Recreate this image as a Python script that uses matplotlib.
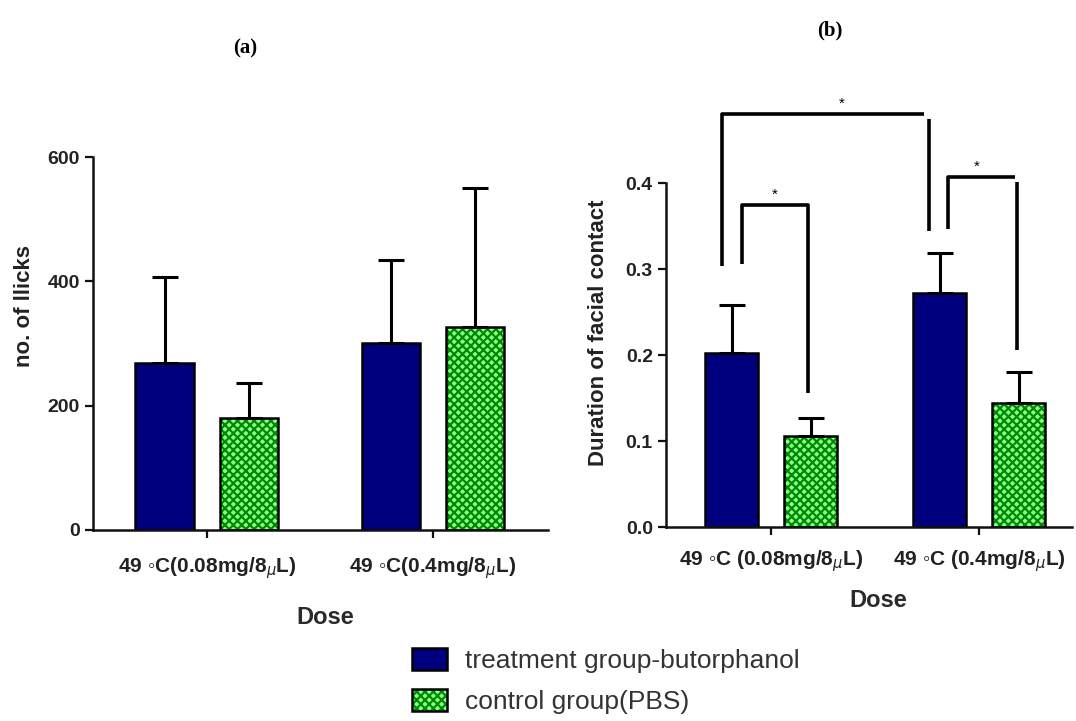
import matplotlib
matplotlib.use("Agg")
import matplotlib.pyplot as plt
import matplotlib.patches as mpatches
from matplotlib.legend_handler import HandlerBase
import numpy as np

plt.rcParams['font.family'] = ['Liberation Sans', 'DejaVu Sans']
plt.rcParams['hatch.linewidth'] = 1.6

# ---- data ----
doses_a = ["49 \u25e6C(0.08mg/8$_{\\mu}$L)", "49 \u25e6C(0.4mg/8$_{\\mu}$L)"]
doses_b = ["49 \u25e6C (0.08mg/8$_{\\mu}$L)", "49 \u25e6C (0.4mg/8$_{\\mu}$L)"]
series = ["treatment group-butorphanol", "control group(PBS)"]

licks_treat = [269, 301]
licks_treat_err = [138, 133]
licks_ctrl = [180, 327]
licks_ctrl_err = [56, 223]

face_treat = [0.202, 0.272]
face_treat_err = [0.056, 0.047]
face_ctrl = [0.106, 0.144]
face_ctrl_err = [0.021, 0.036]

yticks_a = [0, 200, 400, 600]
yticks_b = [0.0, 0.1, 0.2, 0.3, 0.4]

navy = '#00007f'
lightgreen = '#8cff8c'
darkgreen = '#008a00'
HATCH = 'xxxx'

fig = plt.figure(figsize=(10.76, 7.21), dpi=100)

axA = fig.add_axes([93/1076, 1-530/721, 455/1076, 373/721])
axB = fig.add_axes([666/1076, 1-527/721, 406/1076, 344/721])

ytick_font = dict(fontsize=14, fontweight='bold', color='#222222')
xtick_font = dict(fontsize=15, fontweight='bold', color='#222222')


def draw(ax, treat, terr, ctrl, cerr, width, off):
    x = np.arange(len(treat))
    ax.bar(x - off, treat, width, color=navy, edgecolor='black', linewidth=1.8, zorder=2)
    ax.bar(x + off, ctrl, width, facecolor=lightgreen, edgecolor=darkgreen, linewidth=0,
           hatch=HATCH, zorder=2)
    ax.bar(x + off, ctrl, width, fill=False, edgecolor='black', linewidth=1.8, zorder=2.5)
    ax.errorbar(x - off, treat, yerr=[np.zeros(len(terr)), terr], fmt='none',
                ecolor='black', elinewidth=2.2, capsize=9.5, capthick=2.2, zorder=3)
    ax.errorbar(x + off, ctrl, yerr=[np.zeros(len(cerr)), cerr], fmt='none',
                ecolor='black', elinewidth=2.2, capsize=9.5, capthick=2.2, zorder=3)
    for s in ['top', 'right']:
        ax.spines[s].set_visible(False)
    for s in ['left', 'bottom']:
        ax.spines[s].set_linewidth(1.8)
        ax.spines[s].set_color('#111111')
    ax.tick_params(axis='both', width=1.6, length=6, color='#111111')
    ax.set_xticks(x)
    return x


xa = draw(axA, licks_treat, licks_treat_err, licks_ctrl, licks_ctrl_err, 0.26, 0.186)
axA.set_xlim(-0.504, 1.509)
axA.set_ylim(0, 600)
axA.set_yticks(yticks_a)
axA.set_yticklabels([str(v) for v in yticks_a], **ytick_font)
axA.set_xticklabels(doses_a, **xtick_font)
axA.tick_params(axis='x', pad=12)
axA.set_ylabel("no. of llicks", fontsize=16, fontweight='bold', color='#222222')
axA.yaxis.set_label_coords(-0.128, 0.60)
axA.set_xlabel("Dose", fontsize=17, fontweight='bold', color='#2a2a2a')
axA.xaxis.set_label_coords(0.51, -0.205)

xb = draw(axB, face_treat, face_treat_err, face_ctrl, face_ctrl_err, 0.255, 0.19)
axB.set_xlim(-0.505, 1.447)
axB.set_ylim(0, 0.4)
axB.set_yticks(yticks_b)
axB.set_yticklabels(["%.1f" % v for v in yticks_b], **ytick_font)
axB.set_xticklabels(doses_b, **xtick_font)
axB.tick_params(axis='x', pad=9)
axB.set_ylabel("Duration of facial contact", fontsize=16, fontweight='bold', color='#222222')
axB.yaxis.set_label_coords(-0.14, 0.564)
axB.set_xlabel("Dose", fontsize=17, fontweight='bold', color='#2a2a2a')
axB.xaxis.set_label_coords(0.522, -0.18)

# significance brackets (data coordinates of panel b)
bk = dict(color='black', linewidth=2.6, clip_on=False, solid_capstyle='butt', zorder=4)
axB.plot([-0.236, -0.236, 0.737], [0.304, 0.480, 0.480], **bk)
axB.plot([0.760, 0.760], [0.475, 0.344], **bk)
axB.text(0.34, 0.484, "*", ha='center', va='bottom', fontsize=11, clip_on=False)
axB.plot([-0.139, -0.139, 0.178, 0.178], [0.306, 0.374, 0.374, 0.156], **bk)
axB.text(0.019, 0.378, "*", ha='center', va='bottom', fontsize=11, clip_on=False)
axB.plot([0.851, 0.851, 1.173], [0.347, 0.407, 0.407], **bk)
axB.plot([1.183, 1.183], [0.401, 0.206], **bk)
axB.text(0.99, 0.411, "*", ha='center', va='bottom', fontsize=11, clip_on=False)

# panel titles
fig.text(245/1076, 1-48/721, "(a)", ha='center', va='center', fontsize=15,
         fontweight='bold', family='Liberation Serif')
fig.text(830/1076, 1-30/721, "(b)", ha='center', va='center', fontsize=15,
         fontweight='bold', family='Liberation Serif')


class HatchHandler(HandlerBase):
    def create_artists(self, legend, orig_handle, xdescent, ydescent, width, height,
                       fontsize, trans):
        r1 = mpatches.Rectangle((-xdescent, -ydescent), width, height, facecolor=lightgreen,
                                edgecolor=darkgreen, linewidth=0, hatch=HATCH, transform=trans)
        r2 = mpatches.Rectangle((-xdescent, -ydescent), width, height, fill=False,
                                edgecolor='black', linewidth=1.8, transform=trans)
        return [r1, r2]


h1 = mpatches.Patch(facecolor=navy, edgecolor='black', linewidth=1.8)
h2 = mpatches.Patch(facecolor=lightgreen)
leg = fig.legend([h1, h2], series, loc='center left',
                 bbox_to_anchor=(388/1076, 1-681/721), frameon=False, fontsize=19,
                 handlelength=1.35, handleheight=0.9, labelspacing=0.6, handletextpad=0.65)
leg = fig.legends[0]
leg.remove()
leg = fig.legend([h1, h2], series, loc='center left',
                 bbox_to_anchor=(388/1076, 1-681/721), frameon=False, fontsize=19,
                 handlelength=1.35, handleheight=0.9, labelspacing=0.6, handletextpad=0.65,
                 handler_map={h2: HatchHandler()})
for t in leg.get_texts():
    t.set_color('#333333')

fig.savefig("out.png", dpi=100)
